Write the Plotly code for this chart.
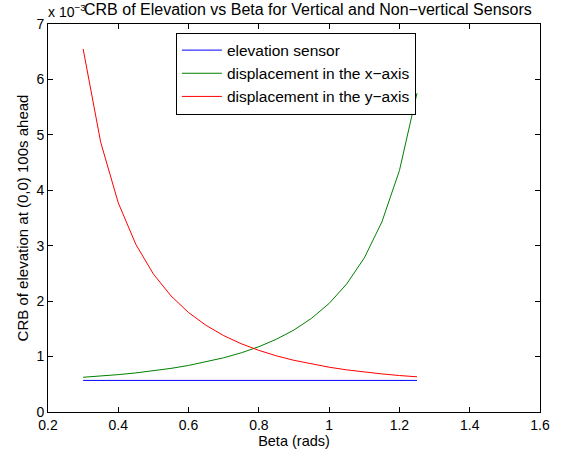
import plotly.graph_objects as go

beta = [0.30, 0.35, 0.40, 0.45, 0.50, 0.55, 0.60, 0.65, 0.70, 0.75,
        0.80, 0.85, 0.90, 0.95, 1.00, 1.05, 1.10, 1.15, 1.20, 1.25]
elevation = [0.57, 0.57, 0.57, 0.57, 0.57, 0.57, 0.57, 0.57, 0.57, 0.57,
             0.57, 0.57, 0.57, 0.57, 0.57, 0.57, 0.57, 0.57, 0.57, 0.57]
disp_x = [0.627, 0.648, 0.674, 0.705, 0.743, 0.787, 0.840, 0.903, 0.978, 1.068,
          1.178, 1.313, 1.480, 1.691, 1.959, 2.310, 2.780, 3.428, 4.356, 5.753]
disp_y = [6.55, 4.865, 3.772, 3.023, 2.489, 2.094, 1.794, 1.562, 1.378, 1.231,
          1.112, 1.013, 0.932, 0.865, 0.808, 0.760, 0.720, 0.687, 0.658, 0.635]

x_ticks = [0.2, 0.4, 0.6, 0.8, 1.0, 1.2, 1.4, 1.6]
x_tick_text = ["0.2", "0.4", "0.6", "0.8", "1", "1.2", "1.4", "1.6"]
y_ticks = [0, 1, 2, 3, 4, 5, 6, 7]

font = "Liberation Sans, Arial, Helvetica, sans-serif"
fs = 15

fig = go.Figure()
fig.add_trace(go.Scatter(x=beta, y=elevation, mode="lines", name="elevation sensor",
                         legendgroup="a", line=dict(color="#0000ff", width=1)))
fig.add_trace(go.Scatter(x=beta, y=disp_x, mode="lines", name="displacement in the x\u2212axis",
                         legendgroup="b", line=dict(color="#008000", width=1)))
fig.add_trace(go.Scatter(x=beta, y=disp_y, mode="lines", name="displacement in the y\u2212axis",
                         legendgroup="c", line=dict(color="#ff0000", width=1)))

axis_common = dict(showline=True, linecolor="black", linewidth=1, mirror="ticks",
                   ticks="inside", ticklen=5, tickcolor="black", showgrid=False,
                   zeroline=False, tickfont=dict(size=14, color="black", family=font))

fig.update_layout(
    width=564, height=460,
    margin=dict(l=48, r=24, t=24, b=48),
    paper_bgcolor="white", plot_bgcolor="white",
    font=dict(family=font, color="black", size=fs),
    showlegend=True,
    legend=dict(x=0.26, y=0.978, xanchor="left", yanchor="top",
                bordercolor="black", borderwidth=1, bgcolor="white",
                font=dict(size=15.5, family=font), tracegroupgap=0,
                itemwidth=40),
    xaxis=dict(range=[0.2, 1.6], tickvals=x_ticks, ticktext=x_tick_text,
               title=dict(text="Beta (rads)", font=dict(size=14.5), standoff=2),
               **axis_common),
    yaxis=dict(range=[0, 7], tickvals=y_ticks,
               title=dict(text="CRB of elevation at (0,0) 100s ahead", font=dict(size=fs), standoff=4),
               **axis_common),
    annotations=[
        dict(text="CRB of Elevation vs Beta for Vertical and Non\u2212vertical Sensors",
             x=(308 - 48) / 492, xref="paper", y=1, yref="paper", showarrow=False,
             xanchor="center", yanchor="bottom", yshift=4, font=dict(size=16)),
        dict(text="x 10<sup>\u22123</sup>", x=0, xref="paper", y=1, yref="paper",
             showarrow=False, xanchor="left", yanchor="bottom", yshift=2, xshift=-2,
             font=dict(size=14)),
    ],
)
fig.write_html("out.html")
